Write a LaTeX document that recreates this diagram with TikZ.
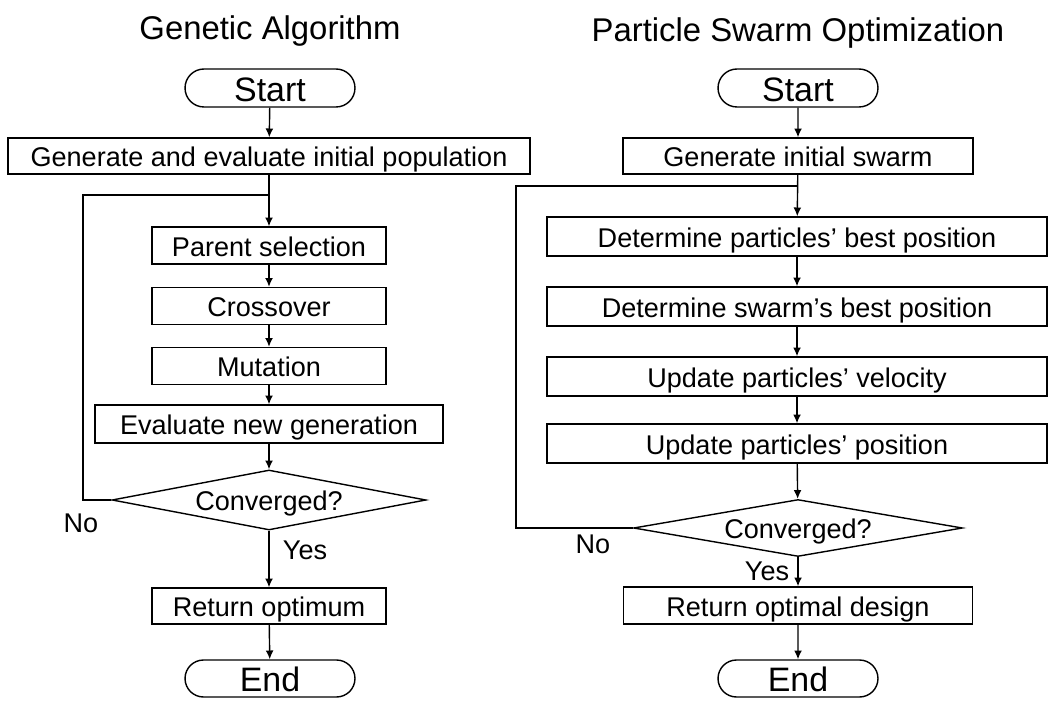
\documentclass[tikz,border=0pt]{standalone}
\usepackage{fontspec}
\setmainfont{Liberation Sans}
\usepackage{tikz}
\usetikzlibrary{shapes.geometric,shapes.misc,arrows.meta}

\tikzset{
  proc/.style={draw, rectangle, line width=0.8pt, minimum height=0.74cm, inner sep=0pt, text height=12pt, text depth=0pt, font=\fontsize{15.4}{18}\selectfont},
  term/.style={draw, rounded rectangle, line width=0.8pt, minimum height=0.76cm, inner sep=0pt, text height=15pt, text depth=0pt, font=\fontsize{19.3}{22}\selectfont},
  decide/.style={draw, diamond, aspect=5.2, line width=0.8pt, inner sep=0pt, text height=12pt, text depth=0pt, font=\fontsize{15.4}{18}\selectfont},
  lbl/.style={inner sep=0pt, text height=11pt, text depth=0pt, font=\fontsize{15.4}{18}\selectfont},
  ttl/.style={inner sep=0pt, text height=13.5pt, text depth=0pt, font=\fontsize{18.7}{22}\selectfont},
  flow/.style={line width=0.8pt, -{Latex[length=5pt,width=4.5pt]}},
  back/.style={line width=0.8pt},
}

\begin{document}
\begin{tikzpicture}[x=0.02cm, y=-0.02cm]
  \useasboundingbox (0,0) rectangle (1048,702);

  % Genetic Algorithm
  \node[ttl] (ttl1) at (270,28) {Genetic Algorithm};
  \node[term, minimum width=3.4cm] (start1) at (270,88) {Start};
  \node[proc, minimum width=10.44cm, minimum height=0.72cm] (gen1) at (269,156) {Generate and evaluate initial population};
  \node[proc, minimum width=4.68cm] (sel1) at (269,245.5) {Parent selection};
  \node[proc, minimum width=4.68cm] (cross1) at (269,306) {Crossover};
  \node[proc, minimum width=4.68cm] (mut1) at (269,366) {Mutation};
  \node[proc, minimum width=6.96cm, minimum height=0.76cm] (eval1) at (269,424) {Evaluate new generation};
  \node[decide, minimum width=6.28cm, minimum height=1.2cm] (conv1) at (269,500) {Converged?};
  \node[proc, minimum width=4.68cm, minimum height=0.72cm] (ret1) at (269,606) {Return optimum};
  \node[term, minimum width=3.4cm, minimum height=0.74cm] (end1) at (270,678.5) {End};
  \node[lbl] (no1) at (81,523) {No};
  \node[lbl] (yes1) at (305,550) {Yes};
  \coordinate (jn1) at (269,195);
  \coordinate (lp1) at (83,500);

  \draw[flow] (start1) -- (gen1);
  \draw[flow] (gen1) -- (sel1);
  \draw[flow] (sel1) -- (cross1);
  \draw[flow] (cross1) -- (mut1);
  \draw[flow] (mut1) -- (eval1);
  \draw[flow] (eval1) -- (conv1);
  \draw[flow] (conv1) -- (ret1);
  \draw[flow] (ret1) -- (end1);
  \draw[back] (conv1.west) -- (lp1) |- (jn1);

  % Particle Swarm Optimization
  \node[ttl] (ttl2) at (798,30) {Particle Swarm Optimization};
  \node[term, minimum width=3.2cm] (start2) at (798,88) {Start};
  \node[proc, minimum width=7cm, minimum height=0.72cm] (gen2) at (798,156) {Generate initial swarm};
  \node[proc, minimum width=10cm, minimum height=0.78cm] (pbest2) at (797,236.5) {Determine particles’ best position};
  \node[proc, minimum width=10cm, minimum height=0.78cm] (gbest2) at (797,306.5) {Determine swarm’s best position};
  \node[proc, minimum width=10cm, minimum height=0.78cm] (vel2) at (797,376.5) {Update particles’ velocity};
  \node[proc, minimum width=10cm, minimum height=0.78cm] (pos2) at (797,443.5) {Update particles’ position};
  \node[decide, minimum width=6.58cm, minimum height=1.14cm] (conv2) at (798,528) {Converged?};
  \node[proc, minimum width=6.98cm, minimum height=0.74cm] (ret2) at (798,605.5) {Return optimal design};
  \node[term, minimum width=3.2cm, minimum height=0.74cm] (end2) at (798,678.5) {End};
  \node[lbl] (no2) at (593,544) {No};
  \node[lbl] (yes2) at (767,571) {Yes};
  \coordinate (jn2) at (798,186);
  \coordinate (lp2) at (516,528);

  \draw[flow] (start2) -- (gen2);
  \draw[flow] (gen2) -- (pbest2);
  \draw[flow] (pbest2) -- (gbest2);
  \draw[flow] (gbest2) -- (vel2);
  \draw[flow] (vel2) -- (pos2);
  \draw[flow] (pos2) -- (conv2);
  \draw[flow] (conv2) -- (ret2);
  \draw[flow] (ret2) -- (end2);
  \draw[back] (conv2.west) -- (lp2) |- (jn2);
\end{tikzpicture}
\end{document}
